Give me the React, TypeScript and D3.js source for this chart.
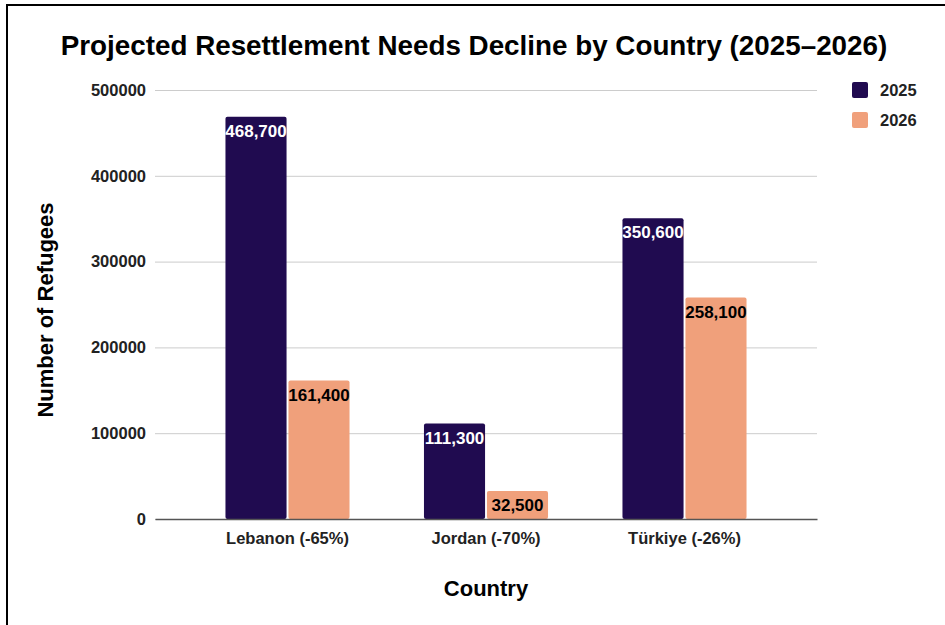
import { useEffect, useRef } from "react"
import * as d3 from "d3"

const countries = ["Lebanon (-65%)", "Jordan (-70%)", "Türkiye (-26%)"]
const years = ["2025", "2026"]
const needs2025 = [468700, 111300, 350600]
const needs2026 = [161400, 32500, 258100]
const yTicks = [0, 100000, 200000, 300000, 400000, 500000]

const colors = ["#200b50", "#f0a07b"]
const labelColors = ["#ffffff", "#000000"]
const font = "'Liberation Sans', Arial, Helvetica, sans-serif"

export default function App() {
  const svgRef = useRef<SVGSVGElement>(null)

  useEffect(() => {
    if (!svgRef.current) return
    d3.select(svgRef.current).selectAll("*").remove()

    const W = 945
    const H = 625
    const margin = { top: 90, right: 128, bottom: 106, left: 155 }
    const width = W - margin.left - margin.right
    const height = 519 - margin.top

    const svg = d3
      .select(svgRef.current)
      .attr("width", W)
      .attr("height", H)
      .style("font-family", font)

    svg.append("rect").attr("width", W).attr("height", H).attr("fill", "#fff")

    // outer frame (right/bottom edges fall outside the picture)
    svg
      .append("rect")
      .attr("x", 7)
      .attr("y", 5)
      .attr("width", W + 20)
      .attr("height", H + 20)
      .attr("fill", "none")
      .attr("stroke", "#000")
      .attr("stroke-width", 2)

    svg
      .append("text")
      .attr("x", 474)
      .attr("y", 55)
      .attr("text-anchor", "middle")
      .style("font-size", "27.8px")
      .style("font-weight", "bold")
      .attr("fill", "#000")
      .text("Projected Resettlement Needs Decline by Country (2025–2026)")

    const g = svg
      .append("g")
      .attr("transform", `translate(${margin.left}, ${margin.top})`)

    const x = d3
      .scaleBand()
      .domain(countries)
      .range([0, width])
      .paddingInner(0.375)
      .paddingOuter(0.355)

    const xSub = d3
      .scaleBand()
      .domain(years)
      .range([0, x.bandwidth()])
      .paddingInner(0.03)

    const y = d3.scaleLinear().domain([0, 500000]).range([height, 0])

    // gridlines + y tick labels
    const yAxis = g
      .append("g")
      .call(
        d3
          .axisLeft(y)
          .tickValues(yTicks)
          .tickSize(-width)
          .tickPadding(9)
          .tickFormat((d) => String(d))
      )
    yAxis.select(".domain").remove()
    yAxis.selectAll(".tick line").attr("stroke", "#cccccc").attr("stroke-width", 1)
    yAxis
      .selectAll(".tick text")
      .attr("fill", "#222")
      .style("font-size", "16.5px")
      .style("font-weight", "bold")
      .style("font-family", font)

    const series = [needs2025, needs2026]

    series.forEach((vals, si) => {
      const grp = g.append("g")
      grp
        .selectAll("rect")
        .data(vals)
        .join("rect")
        .attr("x", (_d, i) => (x(countries[i]) || 0) + (xSub(years[si]) || 0))
        .attr("y", (d) => y(d))
        .attr("width", xSub.bandwidth())
        .attr("height", (d) => height - y(d))
        .attr("rx", 2)
        .attr("fill", colors[si])

      grp
        .selectAll("text")
        .data(vals)
        .join("text")
        .attr(
          "x",
          (_d, i) =>
            (x(countries[i]) || 0) + (xSub(years[si]) || 0) + xSub.bandwidth() / 2
        )
        .attr("y", (d) => y(d) + 20)
        .attr("text-anchor", "middle")
        .attr("fill", labelColors[si])
        .style("font-size", "17px")
        .style("font-weight", "bold")
        .text((d) => d3.format(",")(d))
    })

    // x axis baseline + labels
    const xAxis = g
      .append("g")
      .attr("transform", `translate(0, ${height})`)
      .call(d3.axisBottom(x).tickSize(0).tickPadding(10))
    xAxis.select(".domain").attr("stroke", "#555").attr("stroke-width", 1.5)
    xAxis
      .selectAll(".tick text")
      .attr("fill", "#222")
      .style("font-size", "16.5px")
      .style("font-weight", "bold")
      .style("font-family", font)
      .attr("dy", "0.9em")

    // axis titles
    svg
      .append("text")
      .attr("x", 486)
      .attr("y", 596)
      .attr("text-anchor", "middle")
      .style("font-size", "22px")
      .style("font-weight", "bold")
      .text("Country")

    svg
      .append("text")
      .attr("transform", "rotate(-90)")
      .attr("x", -310)
      .attr("y", 53)
      .attr("text-anchor", "middle")
      .style("font-size", "22px")
      .style("font-weight", "bold")
      .text("Number of Refugees")

    // legend
    const legend = svg.append("g").attr("transform", "translate(852, 82)")
    years.forEach((yr, i) => {
      legend
        .append("rect")
        .attr("x", 0)
        .attr("y", i * 30)
        .attr("width", 16)
        .attr("height", 16)
        .attr("rx", 2)
        .attr("fill", colors[i])
      legend
        .append("text")
        .attr("x", 28)
        .attr("y", i * 30 + 14)
        .attr("fill", "#222")
        .style("font-size", "16.5px")
        .style("font-weight", "bold")
        .text(yr)
    })
  }, [])

  return (
    <svg
      ref={svgRef}
      style={{ position: "absolute", left: 0, top: 0, display: "block" }}
    ></svg>
  )
}
